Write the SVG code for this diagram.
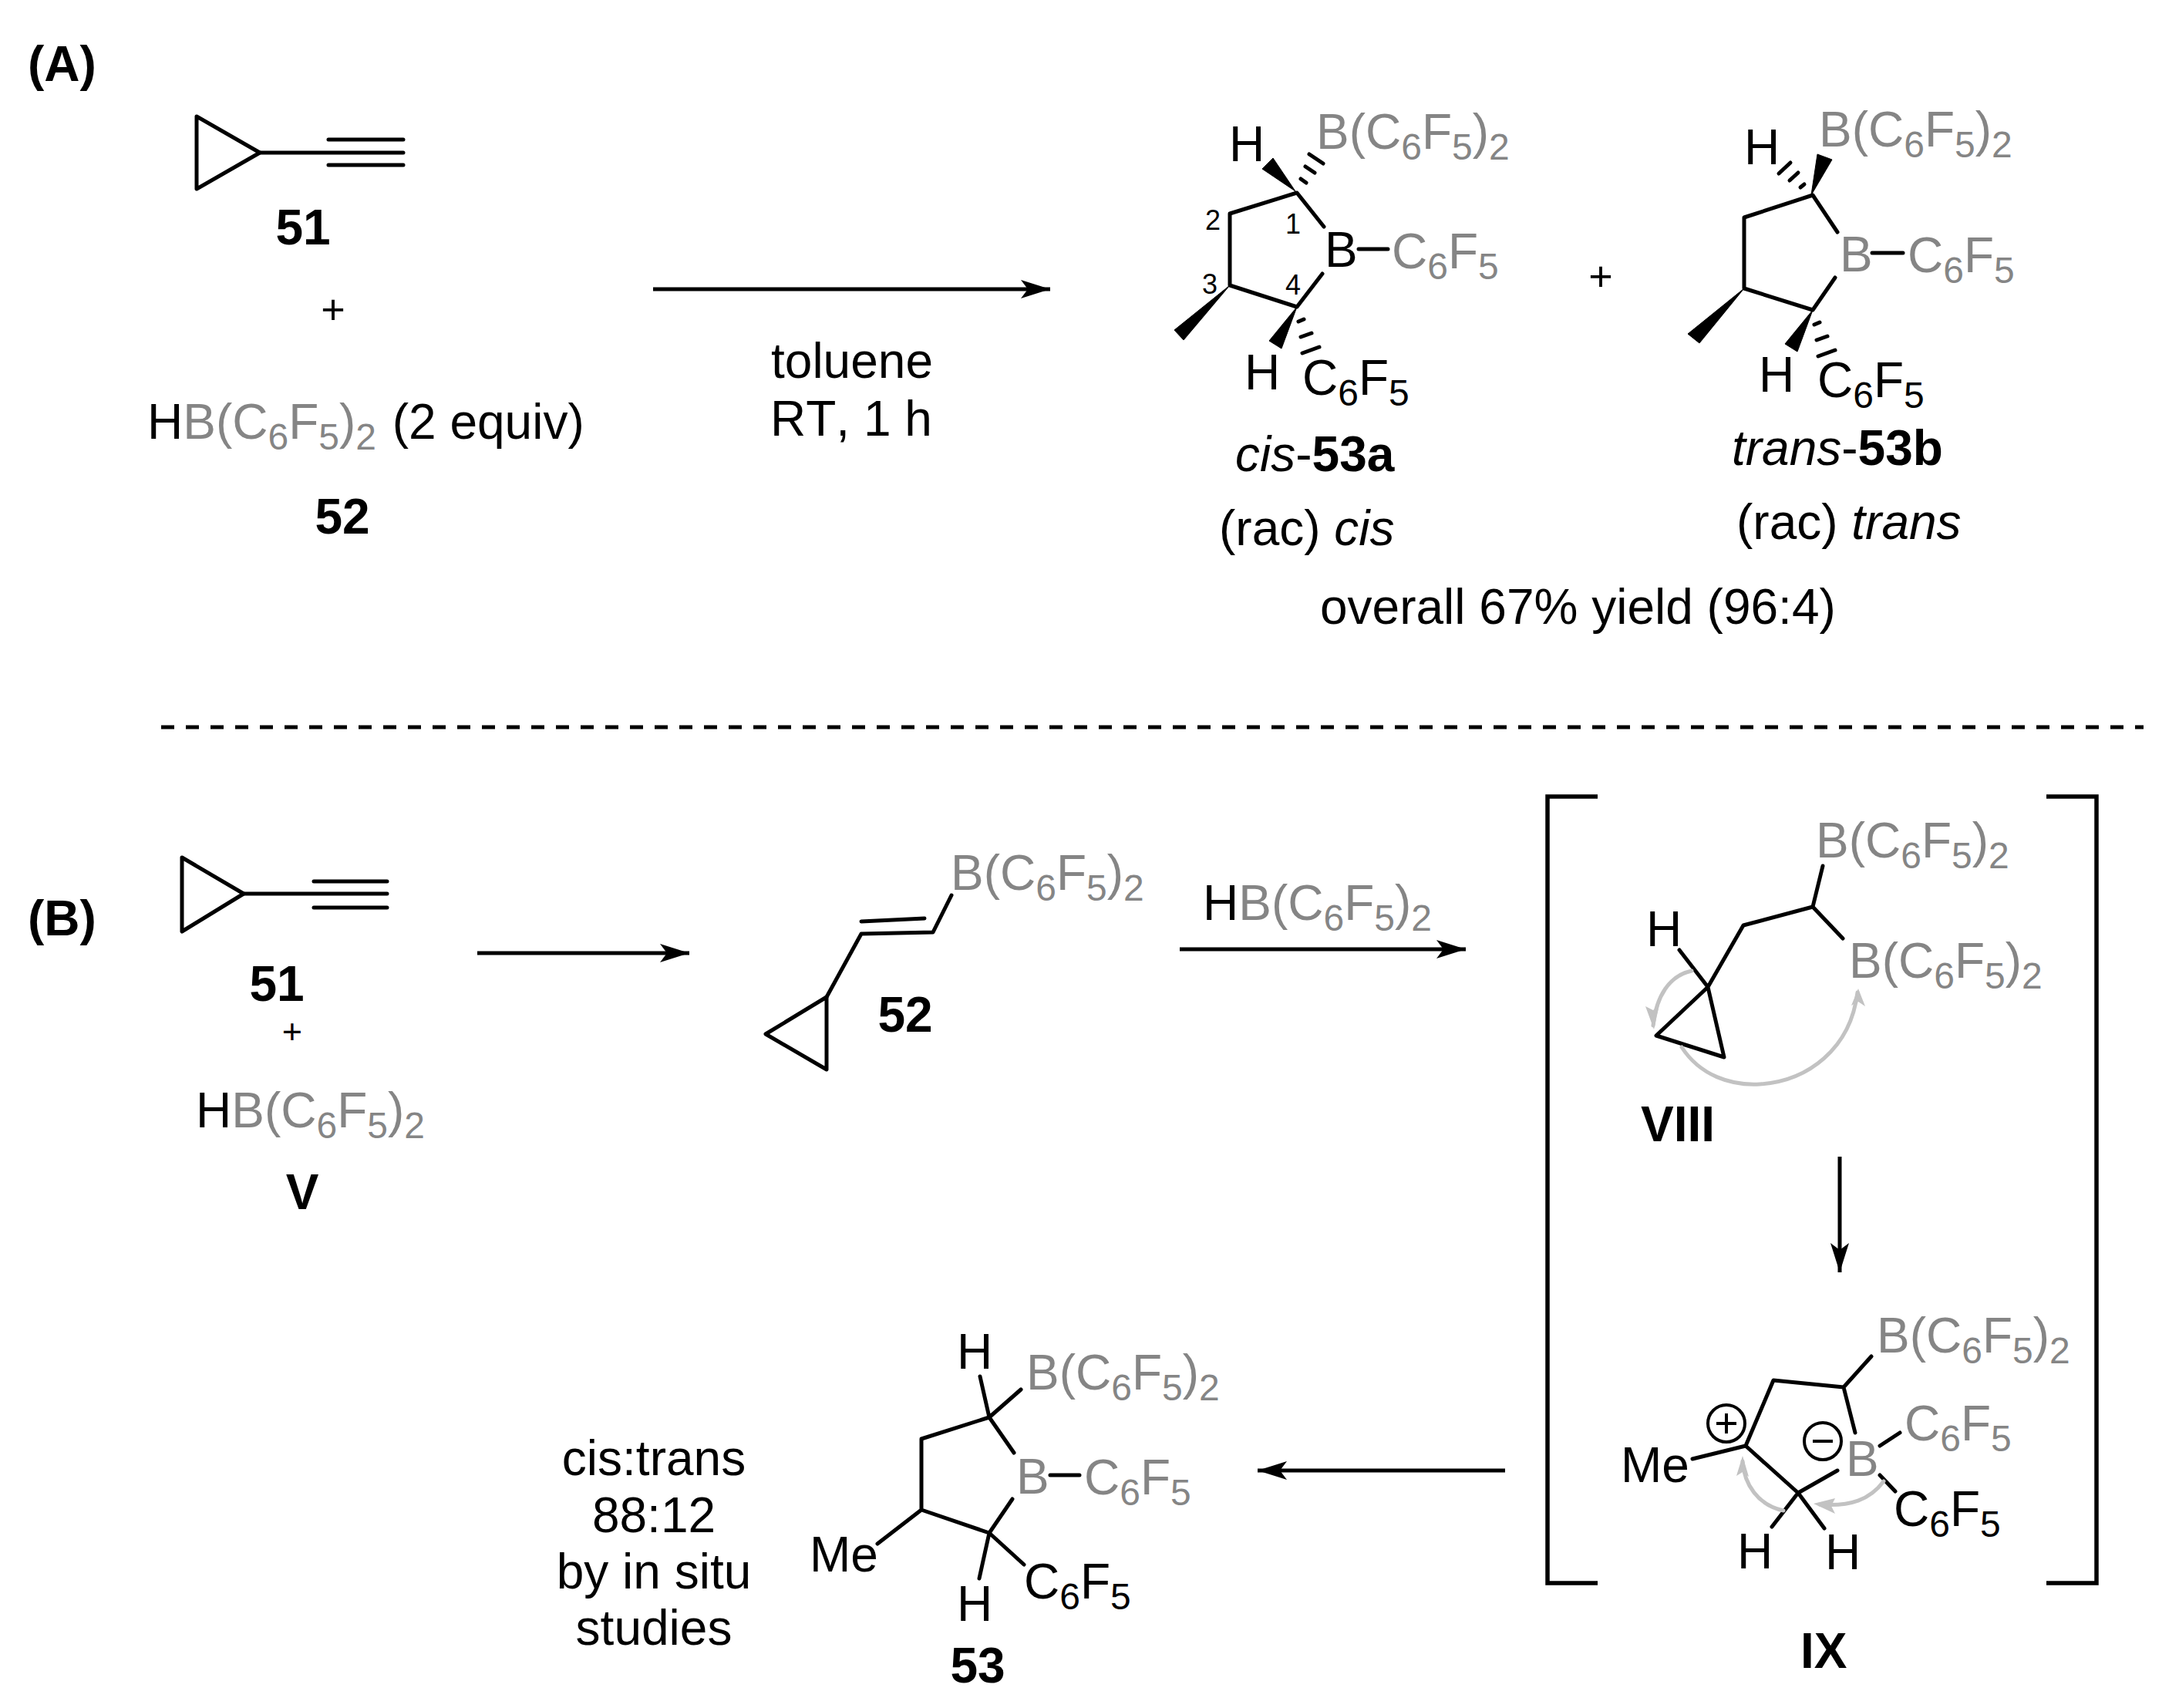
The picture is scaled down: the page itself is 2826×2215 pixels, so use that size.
<svg xmlns="http://www.w3.org/2000/svg" width="2826" height="2215" viewBox="0 0 2826 2215">
<style>
text{font-family:"Liberation Sans",Arial,sans-serif;font-size:64px;fill:#000;font-kerning:none}
.g{fill:#858585}
.b{font-weight:bold}
.i{font-style:italic}
.n{font-size:36px}
.m{text-anchor:middle}
.s{font-size:48px}
.p{font-size:54px}
.q{font-size:45px}
.bd{fill:none;stroke:#000;stroke-width:5;stroke-linecap:round;stroke-linejoin:round}
.bk{fill:none;stroke:#000;stroke-width:5.5;stroke-linecap:butt;stroke-linejoin:miter}
.ar{fill:none;stroke:#000;stroke-width:5;marker-end:url(#ah)}
.cur{fill:none;stroke:#c2c2c2;stroke-width:5;stroke-linecap:round}
.hd{fill:#c2c2c2;stroke:none}
.w{fill:#000;stroke:#000;stroke-width:1;stroke-linejoin:round}
.h{fill:none;stroke:#000;stroke-width:5;stroke-linecap:round}
.dl{fill:none;stroke:#000;stroke-width:5;stroke-dasharray:17 15}
.ch{fill:none;stroke:#000;stroke-width:4}
</style>
<defs>
<marker id="ah" markerUnits="userSpaceOnUse" markerWidth="44" markerHeight="30" refX="38" refY="13" orient="auto">
<path d="M38,13 L0,1 L9,13 L0,25 Z" fill="#000"/>
</marker>
</defs>

<g id="label-A"><text class="b" x="36" y="105">(A)</text></g>
<g id="label-B"><text class="b" x="36" y="1213">(B)</text></g>
<line id="divider" class="dl" x1="209" y1="943" x2="2780" y2="943"/>

<g id="reagent-51-A">
<path class="bd" d="M255,151 L337,198 L255,245 Z"/>
<path class="bd" d="M337,198 H523 M426,181 H523 M426,214 H523"/>
<text class="b m" x="393" y="317">51</text>
</g>
<g id="plus-A"><text class="p m" x="432" y="420">+</text></g>
<g id="reagent-52-A">
<text x="191" y="569">H<tspan class="g">B(C<tspan class="s" dy="14">6</tspan><tspan dy="-14">F</tspan><tspan class="s" dy="14">5</tspan><tspan dy="-14">)</tspan><tspan class="s" dy="14">2</tspan></tspan><tspan dy="-14" dx="3"> (2 equiv)</tspan></text>
<text class="b m" x="444" y="692">52</text>
</g>

<g id="product-cis-53a">
<path class="bd" d="M1717,294 L1682,250 L1595,277 V370 L1682,398 L1715,355"/>
<polygon class="w" points="1680,248 1637,219 1651,205"/>
<path class="h" d="M1687,232 L1694,237 M1693,216 L1705,224 M1698,200 L1716,212"/>
<polygon class="w" points="1595,370 1523,428 1535,441"/>
<polygon class="w" points="1682,398 1646,442 1662,452"/>
<path class="h" d="M1684,417 L1691,414 M1687,437 L1701,432 M1689,458 L1711,450"/>
<path class="bd" d="M1762,323 H1800"/>
<text x="1594" y="209">H</text>
<text class="g" x="1707" y="193">B(C<tspan class="s" dy="14">6</tspan><tspan dy="-14">F</tspan><tspan class="s" dy="14">5</tspan><tspan dy="-14">)</tspan><tspan class="s" dy="14">2</tspan></text>
<text x="1718" y="346">B</text>
<text class="g" x="1805" y="348">C<tspan class="s" dy="14">6</tspan><tspan dy="-14">F</tspan><tspan class="s" dy="14">5</tspan></text>
<text x="1614" y="505">H</text>
<text x="1689" y="512">C<tspan class="s" dy="14">6</tspan><tspan dy="-14">F</tspan><tspan class="s" dy="14">5</tspan></text>
<text class="n" x="1667" y="303">1</text>
<text class="n" x="1563" y="298">2</text>
<text class="n" x="1559" y="381">3</text>
<text class="n" x="1667" y="382">4</text>
<text x="1602" y="611"><tspan class="i">cis</tspan>-<tspan class="b">53a</tspan></text>
<text x="1581" y="707">(rac) <tspan class="i">cis</tspan></text>
</g>
<g id="plus-products"><text class="p m" x="2076" y="377">+</text></g>
<g id="product-trans-53b">
<path class="bd" d="M2383,301 L2351,253 L2262,282 V374 L2351,402 L2380,360"/>
<polygon class="w" points="2349,253 2357,200 2376,207"/>
<path class="h" d="M2335,243 L2340,239 M2321,234 L2332,224 M2307,225 L2322,211"/>
<polygon class="w" points="2262,374 2189,433 2204,445"/>
<polygon class="w" points="2351,402 2315,446 2331,456"/>
<path class="h" d="M2353,421 L2360,418 M2356,441 L2370,436 M2358,462 L2380,454"/>
<path class="bd" d="M2428,328 H2468"/>
<text x="2262" y="213">H</text>
<text class="g" x="2359" y="190">B(C<tspan class="s" dy="14">6</tspan><tspan dy="-14">F</tspan><tspan class="s" dy="14">5</tspan><tspan dy="-14">)</tspan><tspan class="s" dy="14">2</tspan></text>
<text class="g" x="2386" y="352">B</text>
<text class="g" x="2474" y="353">C<tspan class="s" dy="14">6</tspan><tspan dy="-14">F</tspan><tspan class="s" dy="14">5</tspan></text>
<text x="2281" y="508">H</text>
<text x="2357" y="515">C<tspan class="s" dy="14">6</tspan><tspan dy="-14">F</tspan><tspan class="s" dy="14">5</tspan></text>
<text x="2246" y="603"><tspan class="i">trans</tspan>-<tspan class="b">53b</tspan></text>
<text x="2252" y="699">(rac) <tspan class="i">trans</tspan></text>
</g>
<g id="yield"><text x="1712" y="809">overall 67% yield (96:4)</text></g>
<g id="conditions-A">
<text x="1000" y="490">toluene</text>
<text x="999" y="565">RT, 1 h</text>
</g>

<g id="reagent-51-B">
<path class="bd" d="M236,1112 L316,1159 L236,1208 Z"/>
<path class="bd" d="M316,1159 H502 M407,1143 H502 M407,1177 H502"/>
<text class="b m" x="359" y="1298">51</text>
</g>
<g id="plus-B"><text class="q m" x="379" y="1353">+</text></g>
<g id="reagent-V">
<text x="254" y="1462">H<tspan class="g">B(C<tspan class="s" dy="14">6</tspan><tspan dy="-14">F</tspan><tspan class="s" dy="14">5</tspan><tspan dy="-14">)</tspan><tspan class="s" dy="14">2</tspan></tspan></text>
<text class="b m" x="392" y="1568">V</text>
</g>
<g id="intermediate-52">
<path class="bd" d="M1072,1293 L993,1341 L1072,1387 Z"/>
<path class="bd" d="M1072,1293 L1117,1211 L1210,1209 L1234,1161 M1117,1195 L1199,1191"/>
<text class="g" x="1233" y="1154">B(C<tspan class="s" dy="14">6</tspan><tspan dy="-14">F</tspan><tspan class="s" dy="14">5</tspan><tspan dy="-14">)</tspan><tspan class="s" dy="14">2</tspan></text>
<text class="b m" x="1174" y="1338">52</text>
</g>
<g id="reagent-step2">
<text x="1560" y="1193">H<tspan class="g">B(C<tspan class="s" dy="14">6</tspan><tspan dy="-14">F</tspan><tspan class="s" dy="14">5</tspan><tspan dy="-14">)</tspan><tspan class="s" dy="14">2</tspan></tspan></text>
</g>

<g id="bracket">
<path class="bk" d="M2072,1033 H2007 V2053 H2072"/>
<path class="bk" d="M2654,1033 H2719 V2053 H2654"/>
</g>

<g id="intermediate-VIII">
<path class="bd" d="M2215,1280 L2148,1343 L2236,1371 Z M2178,1232 L2215,1280 L2261,1200 L2351,1176 L2364,1123 M2351,1176 L2390,1217"/>
<path class="cur" d="M2194,1259 C2165,1265 2148,1292 2144,1330"/>
<polygon class="hd" points="2145,1335 2134,1305 2144,1310 2152,1303"/>
<path class="cur" d="M2181,1358 C2205,1395 2245,1408 2282,1406 C2345,1402 2400,1360 2409,1287"/>
<polygon class="hd" points="2410,1282 2401,1304 2410,1299 2419,1305"/>
<text x="2135" y="1227">H</text>
<text class="g" x="2355" y="1112">B(C<tspan class="s" dy="14">6</tspan><tspan dy="-14">F</tspan><tspan class="s" dy="14">5</tspan><tspan dy="-14">)</tspan><tspan class="s" dy="14">2</tspan></text>
<text class="g" x="2398" y="1268">B(C<tspan class="s" dy="14">6</tspan><tspan dy="-14">F</tspan><tspan class="s" dy="14">5</tspan><tspan dy="-14">)</tspan><tspan class="s" dy="14">2</tspan></text>
<text class="b" x="2128" y="1480">VIII</text>
</g>

<g id="intermediate-IX">
<path class="bd" d="M2427,1759 L2391,1799 L2300,1790 L2264,1875 L2332,1936 L2383,1907 M2391,1799 L2406,1858 M2195,1892 L2264,1875 M2298,1980 L2332,1936 L2366,1982 M2438,1875 L2464,1858 M2438,1913 L2458,1934"/>
<ellipse class="ch" cx="2239" cy="1846" rx="24" ry="24"/>
<path class="ch" d="M2226,1846 H2252 M2239,1833 V1859"/>
<ellipse class="ch" cx="2364" cy="1869" rx="24" ry="24"/>
<path class="ch" d="M2351,1869 H2377"/>
<path class="cur" d="M2313,1959 C2280,1952 2262,1925 2260,1895"/>
<polygon class="hd" points="2260,1888 2252,1914 2260,1909 2268,1915"/>
<path class="cur" d="M2443,1921 C2425,1945 2400,1954 2360,1951"/>
<polygon class="hd" points="2352,1950 2380,1943 2375,1953 2380,1963"/>
<text class="g" x="2434" y="1754">B(C<tspan class="s" dy="14">6</tspan><tspan dy="-14">F</tspan><tspan class="s" dy="14">5</tspan><tspan dy="-14">)</tspan><tspan class="s" dy="14">2</tspan></text>
<text class="g" x="2394" y="1914">B</text>
<text class="g" x="2470" y="1868">C<tspan class="s" dy="14">6</tspan><tspan dy="-14">F</tspan><tspan class="s" dy="14">5</tspan></text>
<text x="2456" y="1979">C<tspan class="s" dy="14">6</tspan><tspan dy="-14">F</tspan><tspan class="s" dy="14">5</tspan></text>
<text x="2102" y="1922">Me</text>
<text x="2253" y="2034">H</text>
<text x="2367" y="2035">H</text>
<text class="b" x="2335" y="2163">IX</text>
</g>

<g id="product-53">
<path class="bd" d="M1271,1785 L1283,1838 L1324,1802 M1283,1838 L1195,1866 V1958 L1283,1988 L1313,1944 M1283,1838 L1315,1884 M1195,1958 L1138,2002 M1283,1988 L1270,2047 M1283,1988 L1328,2029 M1362,1913 H1400"/>
<text x="1241" y="1775">H</text>
<text class="g" x="1331" y="1802">B(C<tspan class="s" dy="14">6</tspan><tspan dy="-14">F</tspan><tspan class="s" dy="14">5</tspan><tspan dy="-14">)</tspan><tspan class="s" dy="14">2</tspan></text>
<text class="g" x="1318" y="1937">B</text>
<text class="g" x="1406" y="1938">C<tspan class="s" dy="14">6</tspan><tspan dy="-14">F</tspan><tspan class="s" dy="14">5</tspan></text>
<text x="1050" y="2038">Me</text>
<text x="1328" y="2073">C<tspan class="s" dy="14">6</tspan><tspan dy="-14">F</tspan><tspan class="s" dy="14">5</tspan></text>
<text x="1241" y="2102">H</text>
<text class="b m" x="1268" y="2182">53</text>
</g>
<g id="note-ratio">
<text class="m" x="848" y="1913">cis:trans</text>
<text class="m" x="848" y="1987">88:12</text>
<text class="m" x="848" y="2060">by in situ</text>
<text class="m" x="848" y="2133">studies</text>
</g>

<g id="connectors">
<line class="ar" x1="847" y1="375" x2="1362" y2="375"/>
<line class="ar" x1="619" y1="1236" x2="894" y2="1236"/>
<line class="ar" x1="1530" y1="1231" x2="1901" y2="1231"/>
<line class="ar" x1="2386" y1="1500" x2="2386" y2="1650"/>
<line class="ar" x1="1952" y1="1907" x2="1631" y2="1907"/>
</g>
</svg>
